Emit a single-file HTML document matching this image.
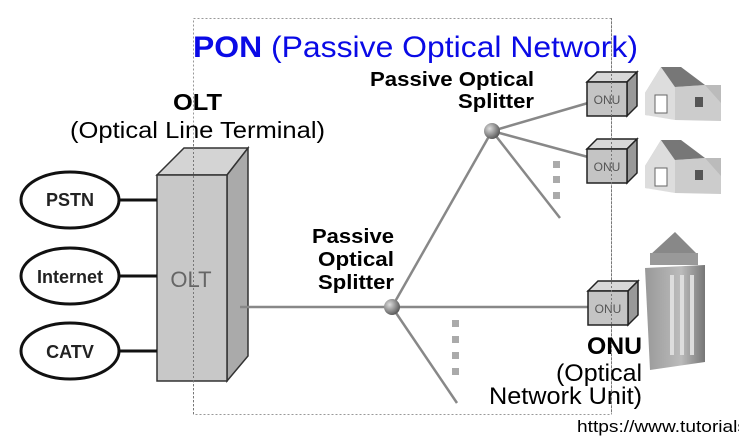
<!DOCTYPE html>
<html><head><style>
body{margin:0;background:#fff;}
svg{display:block;font-family:"Liberation Sans",Arial,sans-serif;}
</style></head><body>
<svg width="739" height="436" viewBox="0 0 739 436" xmlns="http://www.w3.org/2000/svg">
<defs>
<radialGradient id="ball" cx="0.35" cy="0.35" r="0.7"><stop offset="0" stop-color="#ddd"/><stop offset="1" stop-color="#555"/></radialGradient>
<linearGradient id="bld" x1="0" x2="1"><stop offset="0" stop-color="#999"/><stop offset="0.6" stop-color="#bbb"/><stop offset="1" stop-color="#777"/></linearGradient>
<g id="onu">
<polygon points="0,10 10,0 50,0 40,10" fill="#d8d8d8" stroke="#222" stroke-width="1.5"/>
<polygon points="40,10 50,0 50,34 40,44" fill="#999" stroke="#222" stroke-width="1.5"/>
<rect x="0" y="10" width="40" height="34" fill="#c4c4c4" stroke="#222" stroke-width="1.5"/>
<text x="20" y="32" font-size="12" fill="#555" text-anchor="middle">ONU</text>
</g>
<g id="house">
<polygon points="0,28 16,2 36,2 52,20 76,20 76,50 50,55 0,50" fill="#bbb"/>
<polygon points="0,28 16,2 30,22 30,55 0,50" fill="#ddd"/>
<polygon points="16,2 36,2 60,20 30,22" fill="#777"/>
<polygon points="30,22 60,20 76,38 76,56 30,55" fill="#ccc"/>
<rect x="10" y="30" width="12" height="18" fill="#fff" stroke="#666"/>
<rect x="50" y="32" width="8" height="10" fill="#555"/>
</g>
</defs>
<rect x="193.5" y="18.5" width="418" height="396" fill="none" stroke="#999" stroke-dasharray="2,2"/>
<text x="193" y="57" font-size="30" fill="#0a0ae6" textLength="445" lengthAdjust="spacingAndGlyphs"><tspan font-weight="bold">PON</tspan> (Passive Optical Network)</text>
<text x="173" y="110" font-size="23" font-weight="bold" textLength="49" lengthAdjust="spacingAndGlyphs">OLT</text>
<text x="70" y="138" font-size="23" textLength="255" lengthAdjust="spacingAndGlyphs">(Optical Line Terminal)</text>
<!-- OLT box -->
<polygon points="157,175 184,148 248,148 227,175" fill="#d4d4d4" stroke="#333" stroke-width="1.5"/>
<polygon points="227,175 248,148 248,356 227,381" fill="#aaa" stroke="#333" stroke-width="1.5"/>
<rect x="157" y="175" width="70" height="206" fill="#c8c8c8" stroke="#333" stroke-width="1.5"/>
<text x="191" y="287" font-size="22" fill="#666" text-anchor="middle">OLT</text>
<line x1="193.5" y1="140" x2="193.5" y2="414" stroke="#777" stroke-dasharray="2,2"/>
<g stroke="#111" stroke-width="3" fill="#fff">
<line x1="120" y1="200" x2="157" y2="200"/>
<line x1="120" y1="276" x2="157" y2="276"/>
<line x1="120" y1="351" x2="157" y2="351"/>
<ellipse cx="70" cy="200" rx="49" ry="28"/>
<ellipse cx="70" cy="276" rx="49" ry="28"/>
<ellipse cx="70" cy="351" rx="49" ry="28"/>
</g>
<g font-size="18" font-weight="bold" text-anchor="middle" fill="#222">
<text x="70" y="206">PSTN</text><text x="70" y="283">Internet</text><text x="70" y="358">CATV</text>
</g>
<g stroke="#888" stroke-width="2.5" fill="none">
<line x1="240" y1="307" x2="392" y2="307"/>
<line x1="392" y1="307" x2="588" y2="307"/>
<line x1="392" y1="307" x2="457" y2="403"/>
<line x1="392" y1="307" x2="492" y2="131"/>
<line x1="492" y1="131" x2="588" y2="103"/>
<line x1="492" y1="131" x2="588" y2="157"/>
<line x1="492" y1="131" x2="560" y2="218"/>
</g>
<g fill="#aaa">
<rect x="452" y="320" width="7" height="7"/><rect x="452" y="336" width="7" height="7"/><rect x="452" y="352" width="7" height="7"/><rect x="452" y="368" width="7" height="7"/>
<rect x="553" y="161" width="7" height="7"/><rect x="553" y="176" width="7" height="7"/><rect x="553" y="192" width="7" height="7"/>
</g>
<circle cx="392" cy="307" r="8" fill="url(#ball)"/>
<circle cx="492" cy="131" r="8" fill="url(#ball)"/>
<g font-size="20" font-weight="bold">
<text x="312" y="243" textLength="82" lengthAdjust="spacingAndGlyphs">Passive</text>
<text x="318" y="266" textLength="76" lengthAdjust="spacingAndGlyphs">Optical</text>
<text x="318" y="289" textLength="76" lengthAdjust="spacingAndGlyphs">Splitter</text>
<text x="370" y="86" textLength="164" lengthAdjust="spacingAndGlyphs">Passive Optical</text>
<text x="458" y="108" textLength="76" lengthAdjust="spacingAndGlyphs">Splitter</text>
</g>
<use href="#onu" x="587" y="72"/>
<use href="#onu" x="587" y="139"/>
<use href="#onu" x="588" y="281"/>
<line x1="611.5" y1="18" x2="611.5" y2="414" stroke="#777" stroke-dasharray="2,2"/>
<use href="#house" x="645" y="65"/>
<use href="#house" x="645" y="138"/>
<polygon points="650,255 675,232 698,255" fill="#888"/>
<rect x="650" y="253" width="48" height="12" fill="#999"/>
<polygon points="645,268 705,265 705,362 650,370" fill="url(#bld)"/>
<g fill="#ddd">
<rect x="670" y="275" width="4" height="80"/><rect x="680" y="275" width="4" height="80"/><rect x="690" y="275" width="4" height="80"/>
</g>
<text x="587" y="354" font-size="24" font-weight="bold" textLength="55" lengthAdjust="spacingAndGlyphs">ONU</text>
<text x="556" y="381" font-size="24" textLength="86" lengthAdjust="spacingAndGlyphs">(Optical</text>
<text x="489" y="404" font-size="24" textLength="153" lengthAdjust="spacingAndGlyphs">Network Unit)</text>
<text x="577" y="432" font-size="17" textLength="170" lengthAdjust="spacingAndGlyphs">https://www.tutorials</text>
</svg>
</body></html>
